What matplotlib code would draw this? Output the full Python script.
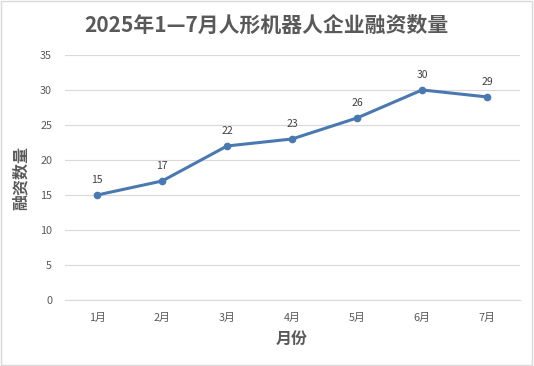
import matplotlib.pyplot as plt
from matplotlib.patches import Rectangle

plt.rcParams['font.family'] = ['Noto Sans CJK SC', 'DejaVu Sans']

months = ['1月', '2月', '3月', '4月', '5月', '6月', '7月']
counts = [15, 17, 22, 23, 26, 30, 29]
yticks = [0, 5, 10, 15, 20, 25, 30, 35]

fig = plt.figure(figsize=(5.34, 3.66), dpi=100)
ax = fig.add_axes([0.121, 0.180, 0.852, 0.670])

x = list(range(len(months)))
ax.plot(x, counts, color='#4a78b0', lw=2.2, marker='o', ms=4.5, zorder=3)
for xi, v in zip(x, counts):
    ax.annotate(str(v), (xi, v), xytext=(0, 7), textcoords='offset points',
                ha='center', va='bottom', fontsize=7.5, color='#404040')

ax.set_xlim(-0.5, len(months) - 0.5)
ax.set_ylim(0, 35)
ax.set_yticks(yticks)
ax.set_xticks(x)
ax.set_xticklabels(months)
ax.tick_params(axis='both', length=0, labelsize=7.8, colors='#595959')
ax.tick_params(axis='y', pad=9)
ax.tick_params(axis='x', pad=9)
ax.grid(axis='y', color='#d9d9d9', lw=0.8)
ax.set_axisbelow(True)
for s in ['top', 'right', 'left']:
    ax.spines[s].set_visible(False)
ax.spines['bottom'].set_color('#d9d9d9')

ax.set_xlabel('月份', fontsize=11.5, fontweight='bold', color='#595959', labelpad=6)
ax.set_ylabel('融资数量', fontsize=11.5, fontweight='bold', color='#595959', labelpad=8)

fig.text(0.498, 0.932, '2025年1—7月人形机器人企业融资数量', ha='center', va='center',
         fontsize=15, fontweight='bold', color='#595959')

fig.patches.append(Rectangle((0.002, 0.003), 0.995, 0.994, transform=fig.transFigure,
                             fill=False, edgecolor='#d9d9d9', lw=1))

fig.savefig('out.png', dpi=100)
